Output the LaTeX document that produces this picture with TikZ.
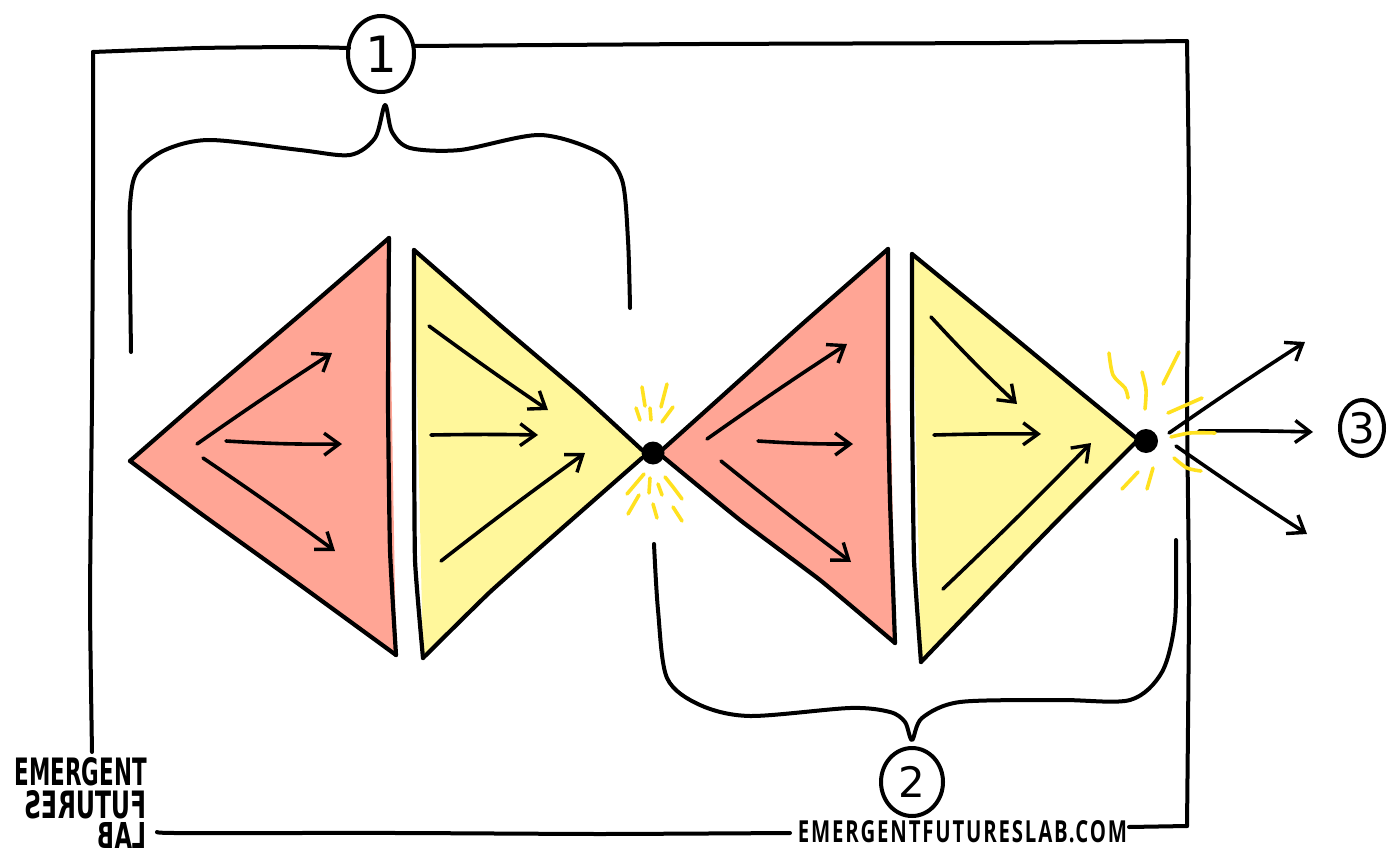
\documentclass[tikz,border=0pt]{standalone}
\usepackage{fontspec}
\setmainfont{Open Sans}
\newfontfamily\logofont{DejaVu Sans}
\usetikzlibrary{arrows.meta,shapes.geometric}
\definecolor{redfill}{HTML}{FFA595}
\definecolor{yelfill}{HTML}{FFF79B}
\definecolor{sparkc}{HTML}{FFE11F}
\tikzset{
  ink/.style={line width=4pt,line cap=round,line join=round,black},
  tri/.style={ink,line width=4.2pt},
  hand/.style={ink,line width=3.6pt,->,>={Straight Barb[length=15pt,width=22pt,line width=3.4pt]}},
  spark/.style={line width=3.6pt,line cap=round,sparkc},
  numc/.style={ellipse,draw=black,line width=4pt,inner sep=0pt,font=\logofont\fontsize{50}{50}\selectfont},
  logo/.style={inner sep=0pt,font=\logofont\bfseries},
}
\begin{document}
\begin{tikzpicture}[x=1pt,y=-1pt]
\useasboundingbox (0,0) rectangle (1400,864);
\fill[white] (0,0) rectangle (1400,864);

% labels
\node[numc,minimum width=66pt,minimum height=76pt] (n1) at (381,54) {1};
\node[numc,minimum width=62pt,minimum height=68pt,font=\logofont\fontsize{42}{42}\selectfont] (n2) at (912,782) {2};
\node[numc,minimum width=44pt,minimum height=56pt,font=\logofont\fontsize{42}{42}\selectfont] (n3) at (1362,428) {3};
\node[inner sep=0pt] (url) at (962.5,832) {\resizebox{329pt}{22pt}{\addfontfeature{LetterSpace=9}\bfseries EMERGENTFUTURESLAB.COM}};
\node[logo,anchor=east] (l1) at (147,772) {\resizebox{132pt}{28pt}{EMERGENT}};
\node[logo,anchor=east] (l2) at (147,805) {\resizebox{122pt}{28pt}{\reflectbox{FUTURES}}};
\node[logo,anchor=east] (l3) at (147,835) {\resizebox{49pt}{26pt}{\reflectbox{LAB}}};

% frame
\draw[ink] plot[smooth,tension=.3] coordinates {(92,752) (90,600) (92,400) (93,200) (93,52)};
\draw[ink] plot[smooth,tension=.3] coordinates {(93,52) (200,48) (300,47) (349,48)};
\draw[ink] plot[smooth,tension=.3] coordinates {(415,46) (700,44) (1000,43) (1187,41)};
\draw[ink] plot[smooth,tension=.3] coordinates {(1187,41) (1189,200) (1187,400) (1189,600) (1187,826)};
\draw[ink] (1187,826) -- (1129,827);
\draw[ink] plot[smooth,tension=.3] coordinates {(157,832) (175,833) (400,833) (600,834) (790,833)};

% triangles
\fill[redfill] (389,238) -- (300,315) -- (200,400) -- (130,461) -- (200,513) -- (300,585) -- (396,655) -- cycle;
\fill[yelfill] (414,250) -- (500,325) -- (580,393) -- (642,450) -- (642,458) -- (560,530) -- (490,592) -- (423,658) -- cycle;
\fill[redfill] (888,249) -- (800,326) -- (720,398) -- (662,450) -- (662,456) -- (740,520) -- (820,580) -- (895,643) -- cycle;
\fill[yelfill] (912,254) -- (1000,326) -- (1080,392) -- (1135,437) -- (1135,443) -- (1060,518) -- (990,590) -- (921,662) -- cycle;
\draw[tri] plot[smooth,tension=.25] coordinates {(396,655) (300,585) (200,513) (130,461)};
\draw[tri] plot[smooth,tension=.25] coordinates {(130,461) (200,400) (300,315) (389,238)};
\draw[tri] plot[smooth,tension=.25] coordinates {(389,238) (388,400) (390,550) (396,655)};
\draw[tri] plot[smooth,tension=.25] coordinates {(414,250) (500,325) (580,393) (642,450)};
\draw[tri] plot[smooth,tension=.25] coordinates {(642,458) (560,530) (490,592) (423,658)};
\draw[tri] plot[smooth,tension=.25] coordinates {(423,658) (415,560) (414,400) (414,250)};
\draw[tri] plot[smooth,tension=.25] coordinates {(888,249) (800,326) (720,398) (662,450)};
\draw[tri] plot[smooth,tension=.25] coordinates {(662,456) (740,520) (820,580) (882,632) (895,643)};
\draw[tri] plot[smooth,tension=.25] coordinates {(895,643) (890,500) (888,400) (888,249)};
\draw[tri] plot[smooth,tension=.25] coordinates {(912,254) (1000,326) (1080,392) (1135,437)};
\draw[tri] plot[smooth,tension=.25] coordinates {(1135,443) (1060,518) (990,590) (921,662)};
\draw[tri] plot[smooth,tension=.25] coordinates {(921,662) (914,560) (912,400) (912,254)};

% dots
\node[circle,fill=black,minimum size=23pt,inner sep=0pt] (d1) at (653,453) {};
\node[circle,fill=black,minimum size=24pt,inner sep=0pt] (d2) at (1146,441) {};

% braces
\draw[ink] plot[smooth,tension=.5] coordinates {(131,352) (130,270) (130,205) (137,172) (165,150) (210,140) (300,150) (350,155) (375,138) (385,105) (392,132) (410,148) (460,150) (540,135) (600,153) (622,180) (628,240) (630,308)};
\draw[ink] plot[smooth,tension=.5] coordinates {(654,544) (658,610) (667,678) (700,705) (750,716) (850,708) (890,712) (905,722) (912,740) (922,718) (960,702) (1060,700) (1130,700) (1162,672) (1175,620) (1176,540)};

% arrows
\foreach \i/\ax/\ay/\bx/\by/\b in {
 a1/197/444/332/353/1, a2/226/441/342/444/-2, a3/203/458/335/551/1,
 b1/429/326/548/410/-1, b2/431/435/538/435/1, b3/441/561/585/453/1,
 c1/707/439/847/344/1, c2/758/441/853/444/-2, c3/721/461/851/562/-1,
 e1/931/317/1017/404/-2, e2/934/435/1041/434/1, e3/943/589/1091/443/-1,
 f1/1169/433/1305/342/1, f2/1199/431/1313/432/1, f3/1176/446/1307/534/-1}{
  \coordinate (\i s) at (\ax,\ay);
  \coordinate (\i e) at (\bx,\by);
  \draw[hand] (\i s) to[bend left=\b] (\i e);
}

% sparks
\draw[spark] plot[smooth] coordinates {(1109,353) (1113,375) (1125,388) (1128,398)};
\draw[spark] plot[smooth] coordinates {(1142,372) (1146,390) (1145,409)};
\draw[spark] (1179,352) -- (1163,384);
\draw[spark] (1168,413) -- (1202,398);
\draw[spark] plot[smooth] coordinates {(1171,437) (1190,433) (1215,433)};
\draw[spark] plot[smooth] coordinates {(1174,458) (1187,468) (1201,471)};
\draw[spark] (1153,468) -- (1147,489);
\draw[spark] (1138,472) -- (1122,489);
\foreach \ax/\ay/\bx/\by in {642/387/645/406, 667/384/661/407, 636/408/640/420, 650/408/651/420,
  673/407/662/422, 644/474/627/494, 650/478/649/493, 658/484/662/495, 639/495/628/514,
  653/504/657/518, 673/507/682/521}{
  \draw[spark] (\ax,\ay) -- (\bx,\by);
}
\draw[spark] plot[smooth] coordinates {(665,477) (673,487) (682,499)};
\end{tikzpicture}
\end{document}
